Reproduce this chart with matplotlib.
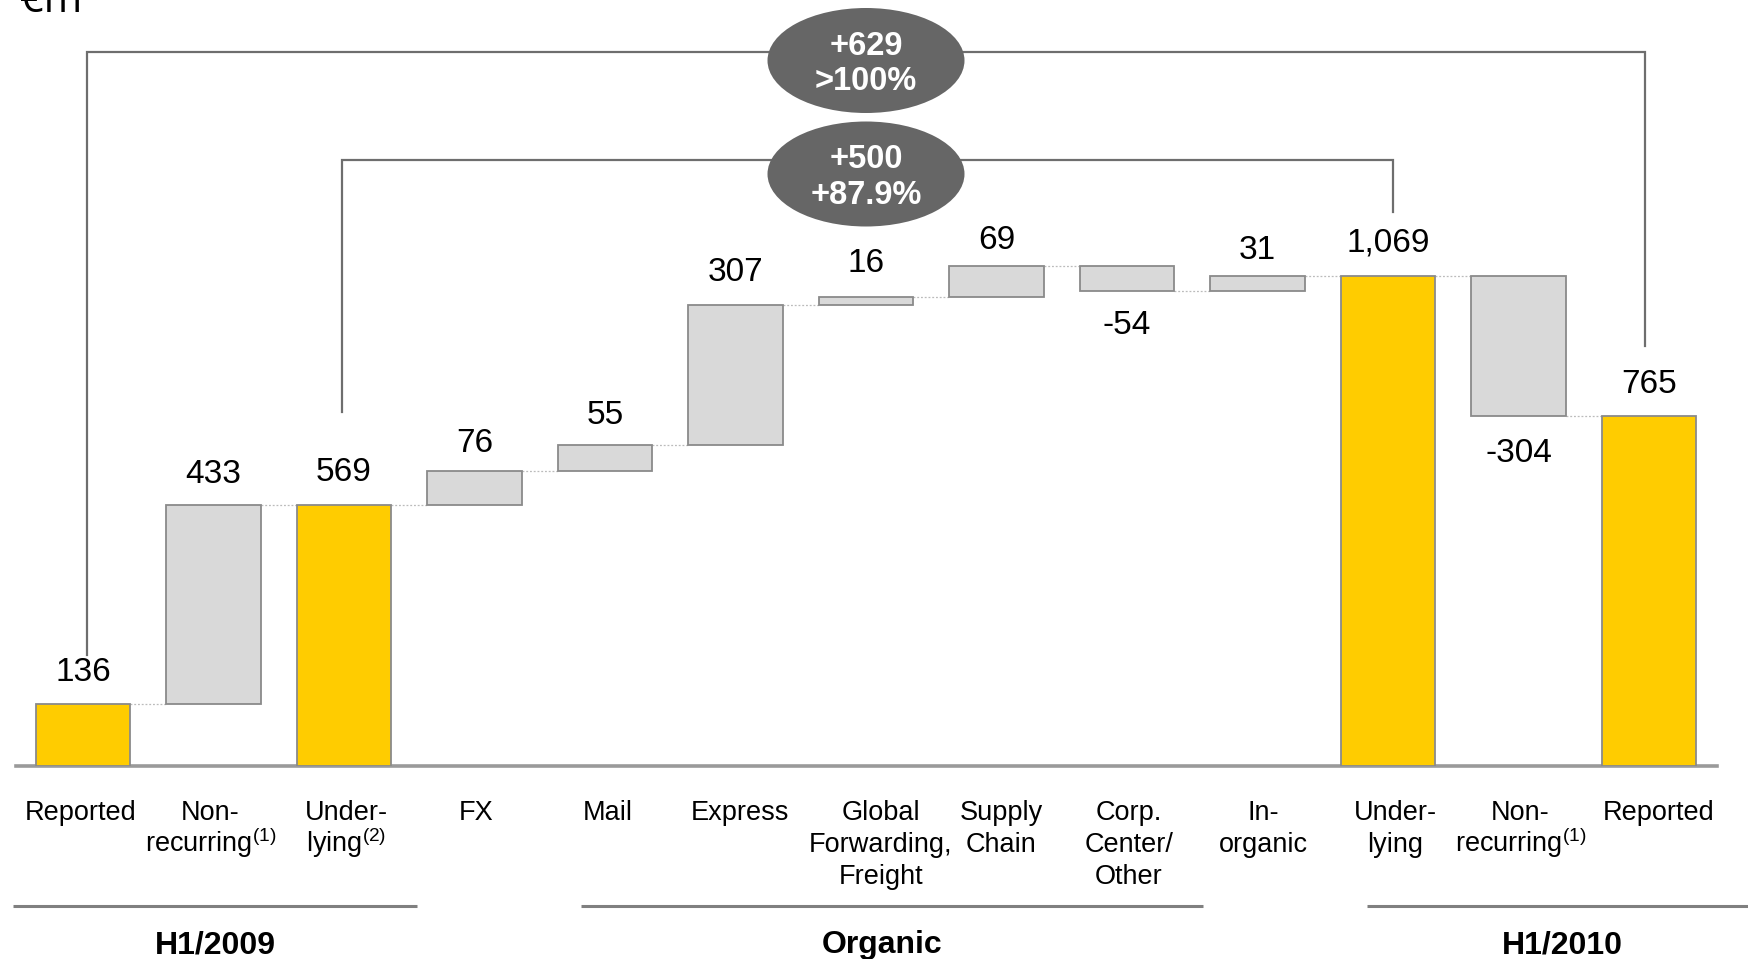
import matplotlib
matplotlib.use("Agg")
import matplotlib.pyplot as plt
import matplotlib.transforms as mtransforms
from matplotlib.patches import Ellipse

# ---------------- data ----------------
categories = ["Reported", "Non-\nrecurring$^{\\mathregular{(1)}}$", "Under-\nlying$^{\\mathregular{(2)}}$",
              "FX", "Mail", "Express", "Global\nForwarding,\nFreight", "Supply\nChain",
              "Corp.\nCenter/\nOther", "In-\norganic", "Under-\nlying",
              "Non-\nrecurring$^{\\mathregular{(1)}}$", "Reported"]
values = [136, 433, 569, 76, 55, 307, 16, 69, -54, 31, 1069, -304, 765]
is_total = [True, False, True, False, False, False, False, False, False, False, True, False, True]
value_labels = ["136", "433", "569", "76", "55", "307", "16", "69", "-54", "31", "1,069", "-304", "765"]
groups = ["H1/2009", "Organic", "H1/2010"]
bubble_lines = [("+629", ">100%"), ("+500", "+87.9%")]
unit_label = "€m"

# ---------------- layout ----------------
W, H = 1748, 959
PX_PER_UNIT_X = 130.5
PX_PER_UNIT_Y = 0.458
X0_PX = 83.0          # pixel x of first bar centre
BASE_PX = 766.0       # pixel y of baseline
AX_LEFT_PX, AX_RIGHT_PX = 15.6, 1717.0

YELLOW = "#FFCC00"
GREY_FILL = "#D9D9D9"
EDGE = "#8A8A8A"
DARK = "#666666"

plt.rcParams["font.family"] = ["Liberation Sans", "DejaVu Sans"]

fig = plt.figure(figsize=(W / 100, H / 100), dpi=100)
ax = fig.add_axes([AX_LEFT_PX / W, (H - BASE_PX) / H, (AX_RIGHT_PX - AX_LEFT_PX) / W, BASE_PX / H])
ax.set_xlim((AX_LEFT_PX - X0_PX) / PX_PER_UNIT_X, (AX_RIGHT_PX - X0_PX) / PX_PER_UNIT_X)
ax.set_ylim(0, BASE_PX / PX_PER_UNIT_Y)
for s in ["top", "left", "right"]:
    ax.spines[s].set_visible(False)
ax.spines["bottom"].set_color("#9A9A9A")
ax.spines["bottom"].set_linewidth(2.6)
ax.set_xticks([])
ax.set_yticks([])
ax.patch.set_alpha(0)


def dy(px):
    return px / PX_PER_UNIT_Y


def dx(px):
    return px / PX_PER_UNIT_X


def ypx(px_from_top):
    return (BASE_PX - px_from_top) / PX_PER_UNIT_Y


def fy(px_from_top):
    return 1 - px_from_top / H


blend = mtransforms.blended_transform_factory(ax.transData, fig.transFigure)

bw = 0.726
label_dy_px = [1, 1, -1, 4.5, 2, 0, -2, 6.5, -1, 6.5, -1, 2, 1]   # small per-label nudges (down +)
level = 0
levels_after = []
for i, v in enumerate(values):
    if is_total[i]:
        bottom, height, color = 0, v, YELLOW
        level = v
    else:
        start = level
        level = level + v
        bottom, height, color = min(start, level), abs(v), GREY_FILL
    ax.bar(i, height, bottom=bottom, width=bw, color=color, edgecolor=EDGE, linewidth=1.3, zorder=3)
    levels_after.append(level)
    if is_total[i] or v >= 0:
        ly = bottom + height + dy(23.5 - label_dy_px[i])
    else:
        ly = bottom - dy(44.5 + label_dy_px[i])
    ax.text(i, ly, value_labels[i], ha="center", va="baseline", fontsize=24, color="black", zorder=5)

# dotted connectors between bars
for i in range(len(values) - 1):
    lv = levels_after[i]
    ax.plot([i + bw / 2, i + 1 - bw / 2], [lv, lv], color="#BBBBBB", lw=0.9, ls=(0, (1.5, 1.5)), zorder=2)

# category labels, one text per line for exact line pitch
label_dx_px = [-2, -3, 2, 2, 3, 4, 15, 5, 2, 6, 7, 2, 10]
for i, lab in enumerate(categories):
    for k, line in enumerate(lab.split("\n")):
        ax.text(i + dx(label_dx_px[i]), fy(820 + 31.8 * k), line, transform=blend,
                ha="center", va="baseline", fontsize=19.5)

# group lines and labels
group_line_px = [(13, 417), (581, 1203), (1367, 1760)]
group_center_px = [215, 882, 1562]
for g, (a, b), c in zip(groups, group_line_px, group_center_px):
    ax.plot([dx(a - X0_PX), dx(b - X0_PX)], [fy(906), fy(906)], transform=blend, color="#808080",
            lw=2.2, clip_on=False, solid_capstyle="butt")
    ax.text(dx(c - X0_PX), fy(945), g, transform=blend, ha="center", va="center",
            fontsize=23, fontweight="bold")

# bracket connectors
def bracket(i_left, i_right, off_l, off_r, y_top_px, bot_left_px, bot_right_px):
    xl = i_left + dx(off_l)
    xr = i_right + dx(off_r)
    ax.plot([xl, xl, xr, xr], [ypx(bot_left_px), ypx(y_top_px), ypx(y_top_px), ypx(bot_right_px)],
            color="#6E6E6E", lw=1.6, zorder=1, clip_on=False, solid_joinstyle="miter")

bracket(0, 12, 4, -4, 52, 655, 346)
bracket(2, 10, -2, 5, 160, 412, 212)

# bubbles
bubble_center_x = 6 + dx(866 - (X0_PX + 6 * PX_PER_UNIT_X))
for (l1, l2), cy in zip(bubble_lines, [60.5, 174]):
    e = Ellipse((bubble_center_x, ypx(cy)), width=dx(197), height=dy(105), facecolor=DARK,
                edgecolor="none", zorder=6, clip_on=False)
    ax.add_patch(e)
    ax.text(bubble_center_x, ypx(cy - 14), l1, ha="center", va="center", color="white",
            fontsize=23.5, fontweight="bold", zorder=7)
    ax.text(bubble_center_x, ypx(cy + 21), l2, ha="center", va="center", color="white",
            fontsize=23.5, fontweight="bold", zorder=7)

# unit label (partly cut off at top)
fig.text(20 / W, fy(12), unit_label, ha="left", va="baseline", fontsize=30,
         family=["Open Sans", "DejaVu Sans"])

fig.savefig("out.png", dpi=100)
